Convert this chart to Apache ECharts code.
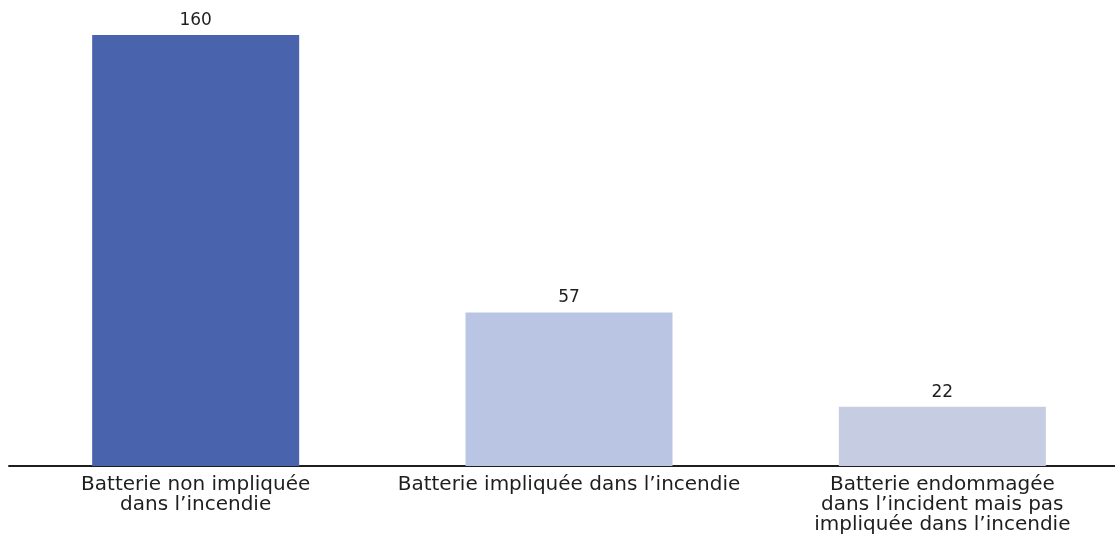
<!DOCTYPE html>
<html>
<head>
<meta charset="utf-8">
<script src="https://cdn.jsdelivr.net/npm/echarts@6/dist/echarts.min.js"></script>
<style>
  html, body { margin: 0; padding: 0; background: #ffffff; }
  #chart { width: 1115px; height: 539px; }
</style>
</head>
<body>
<div id="chart"></div>
<script>
// Battery status in the recorded fires
const categories = [
  'Batterie non impliquée\ndans l’incendie',
  'Batterie impliquée dans l’incendie',
  'Batterie endommagée\ndans l’incident mais pas\nimpliquée dans l’incendie'
];
const counts = [160, 57, 22];
const barColors = ['#4a63ad', '#b9c5e3', '#c6cce1'];

const chart = echarts.init(document.getElementById('chart'));
chart.setOption({
  animation: false,
  // the category band runs a little past the right edge of the canvas
  grid: { left: 9, width: 1120, top: 35, bottom: 73, outerBoundsMode: 'none', containLabel: false },
  xAxis: {
    type: 'category',
    data: categories,
    axisLine: { show: true, lineStyle: { color: '#1e1e1e', width: 2 } },
    axisTick: { show: false },
    axisLabel: {
      interval: 0,
      margin: 9,
      color: '#1e1e1e',
      fontFamily: 'DejaVu Sans',
      fontSize: 20,
      lineHeight: 20
    }
  },
  yAxis: {
    type: 'value',
    min: 0,
    max: 160,
    show: false,
    splitLine: { show: false }
  },
  series: [{
    type: 'bar',
    barWidth: 207,
    data: counts.map((v, i) => ({ value: v, itemStyle: { color: barColors[i] } })),
    label: {
      show: true,
      position: 'top',
      distance: 6,
      color: '#1e1e1e',
      fontFamily: 'DejaVu Sans',
      fontSize: 17
    }
  }]
});
</script>
</body>
</html>
